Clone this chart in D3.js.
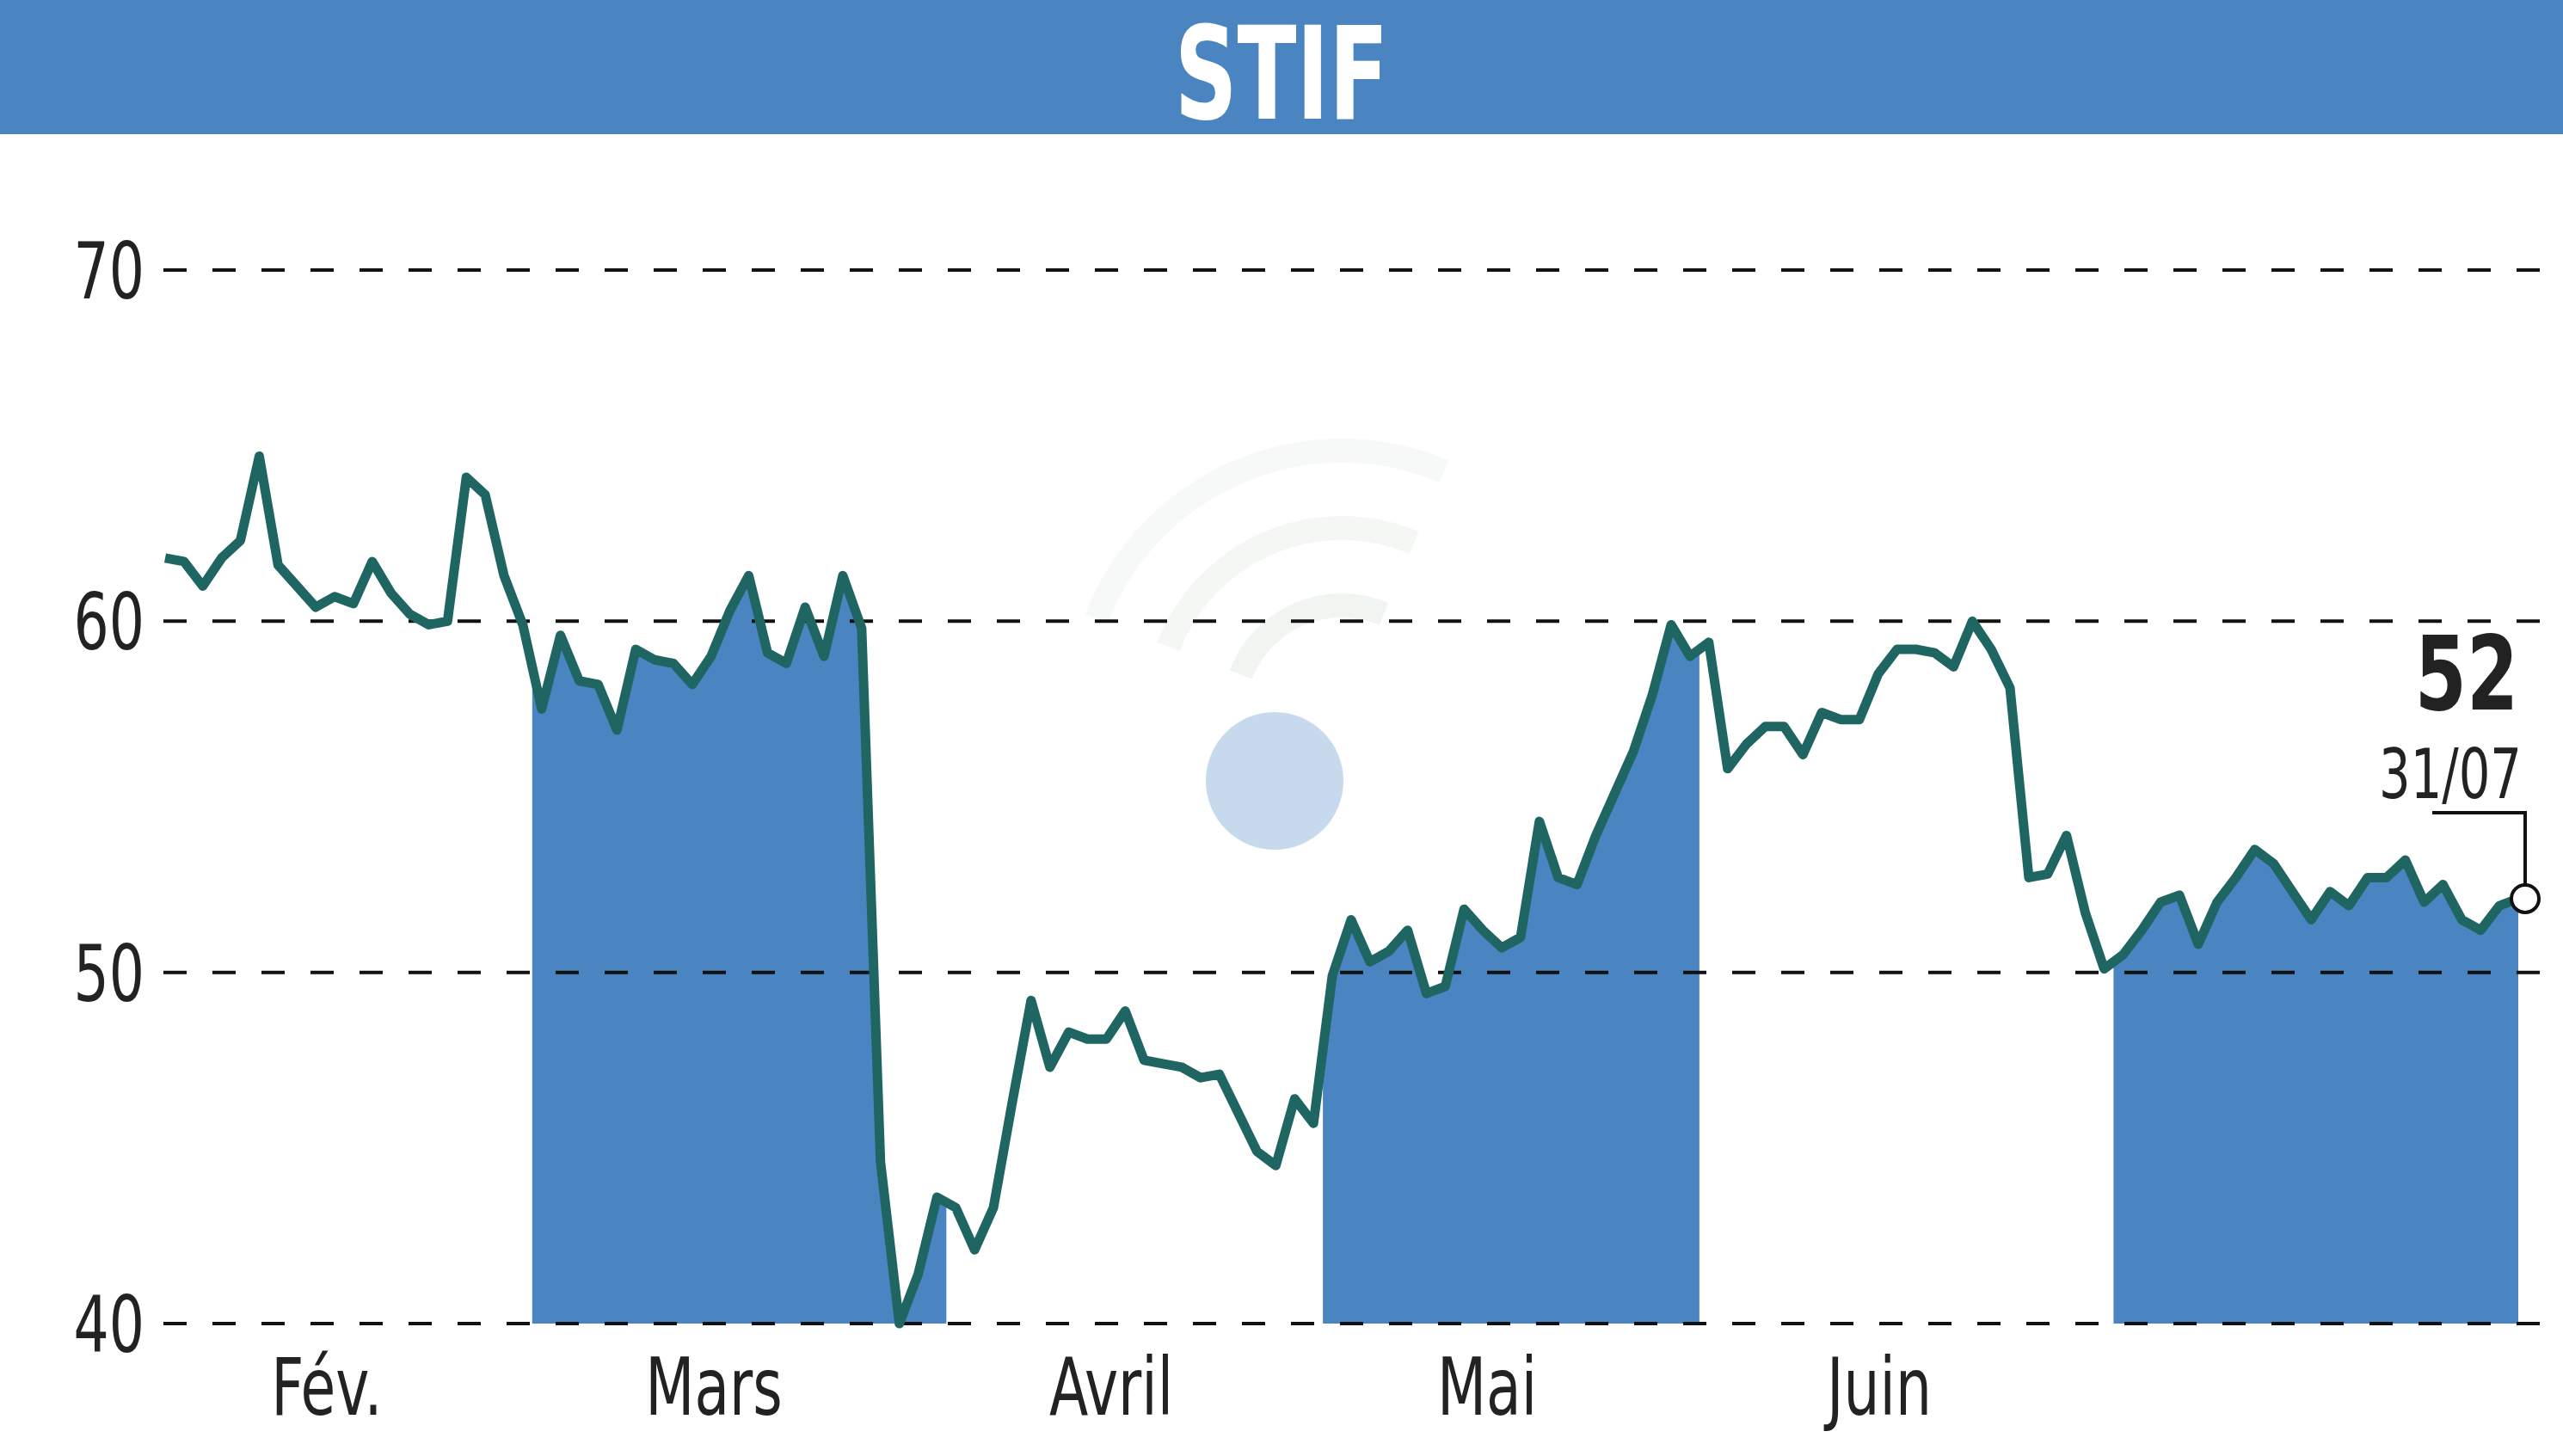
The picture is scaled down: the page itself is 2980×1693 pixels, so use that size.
<!DOCTYPE html>
<html><head><meta charset="utf-8">
<script src="https://cdn.jsdelivr.net/npm/d3@7"></script>
<style>html,body{margin:0;padding:0;background:#fff;}svg{display:block;}</style>
</head><body>
<script>
const title = "STIF";
const feb = [61.8,61.7,61.0,61.8,62.3,64.7,61.6,61.0,60.4,60.7,60.5,61.7,60.8,60.2,59.9,60.0,64.1,63.6,61.3,59.9];
const mar = [57.5,59.6,58.3,58.2,56.9,59.2,58.9,58.8,58.2,59.0,60.3,61.3,59.1,58.8,60.4,59.0,61.3,59.8,44.6,40.0,41.4,43.6];
const apr = [43.3,42.1,43.3,46.3,49.2,47.3,48.3,48.1,48.1,48.9,47.5,47.4,47.3,47.0,47.1,46.0,44.9,44.5,46.4,45.7];
const mai = [49.9,51.5,50.3,50.6,51.2,49.4,49.6,51.8,51.2,50.7,51.0,54.3,52.7,52.5,53.9,55.1,56.3,57.9,59.9,59.0];
const jun = [59.4,55.8,56.5,57.0,57.0,56.2,57.4,57.2,57.2,58.5,59.2,59.2,59.1,58.7,60.0,59.2,58.1,52.7,52.8,53.9,51.7,50.1];
const jul = [50.5,51.2,52.0,52.2,50.8,52.0,52.7,53.5,53.1,52.3,51.5,52.3,51.9,52.7,52.7,53.2,52.0,52.5,51.5,51.2,51.9,52.1];
const monthLabels = ["Fév.","Mars","Avril","Mai","Juin",""];
const yTicks = [40,50,60,70];
const lastValue = "52", lastDate = "31/07";

const months = [feb,mar,apr,mai,jun,jul];
const data = []; const starts = [];
months.forEach((m,mi)=>{ starts.push(data.length); m.forEach(v=>data.push({i:data.length,v,m:mi})); });
const W=2980,H=1693;
const svg=d3.select("body").append("svg").attr("width",W).attr("height",H);
const x=d3.scaleLinear().domain([0,data.length-1]).range([192,2928]);
const y=d3.scaleLinear().domain([40,70]).range([1539,314]);
const font="'DejaVu Sans Condensed','Liberation Sans',sans-serif";

svg.append("rect").attr("x",0).attr("y",0).attr("width",W).attr("height",156).attr("fill","#4a85c2");
svg.append("text").attr("x",1490).attr("y",138).attr("text-anchor","middle").attr("fill","#fff")
  .attr("font-family",font).attr("font-weight","bold").attr("font-size",150)
  .attr("transform",`translate(1490,0) scale(0.75,1) translate(-1490,0)`).text(title);

svg.append("circle").attr("cx",1482).attr("cy",908).attr("r",80).attr("fill","#b9cfe8").attr("opacity",0.8);
[[140,0.12],[230,0.1],[320,0.08]].forEach(([r,o])=>{
  svg.append("path").attr("d",d3.arc()({innerRadius:r-28,outerRadius:r,startAngle:-1.2,endAngle:0.4})).attr("transform","translate(1560,830)")
    .attr("fill","#8fae98").attr("opacity",o);
});

const bnd = i => i<=0 ? x(0) : (i>=data.length? x(data.length-1)+6 : (x(i-1)+x(i))/2);
const defs=svg.append("defs");
const area=d3.area().x(d=>x(d.i)).y0(y(40)).y1(d=>y(d.v));
[1,3,5].forEach(mi=>{
  const s=starts[mi], e=mi+1<starts.length?starts[mi+1]:data.length;
  const id="clip"+mi;
  defs.append("clipPath").attr("id",id).append("rect").attr("x",bnd(s)).attr("y",0).attr("width",bnd(e)-bnd(s)).attr("height",H);
  svg.append("path").datum(data).attr("d",area).attr("fill","#4a85c2").attr("clip-path",`url(#${id})`);
});

yTicks.forEach(t=>{
  svg.append("line").attr("x1",190).attr("x2",W).attr("y1",y(t)).attr("y2",y(t))
    .attr("stroke","#111").attr("stroke-width",4).attr("stroke-dasharray","27,30");
  svg.append("text").attr("x",168).attr("y",y(t)+33).attr("text-anchor","end").attr("font-family",font)
    .attr("font-size",90).attr("fill","#222").attr("transform",`translate(168,0) scale(0.8,1) translate(-168,0)`).text(t);
});

svg.append("path").datum(data).attr("d",d3.line().x(d=>x(d.i)).y(d=>y(d.v)))
  .attr("fill","none").attr("stroke","#1f6663").attr("stroke-width",11).attr("stroke-linejoin","round");

const labelX=[380,830,1292,1729,2185];
monthLabels.forEach((l,i)=>{ if(!l) return;
  svg.append("text").attr("x",labelX[i]).attr("y",1645).attr("text-anchor","middle").attr("font-family",font)
   .attr("font-size",92).attr("fill","#222").attr("transform",`translate(${labelX[i]},0) scale(0.8,1) translate(${-labelX[i]},0)`).text(l);
});

const lx=x(data.length-1)+8, ly=y(data[data.length-1].v);
svg.append("path").attr("d",`M${lx},${ly-17} V945 H2828`).attr("fill","none").attr("stroke","#111").attr("stroke-width",4);
svg.append("circle").attr("cx",lx).attr("cy",ly).attr("r",16).attr("fill","#fff").attr("stroke","#111").attr("stroke-width",4);
svg.append("text").attr("x",2928).attr("y",825).attr("text-anchor","end").attr("font-family",font).attr("font-weight","bold")
  .attr("font-size",120).attr("fill","#222").attr("transform","translate(2928,0) scale(0.8,1) translate(-2928,0)").text(lastValue);
svg.append("text").attr("x",2932).attr("y",928).attr("text-anchor","end").attr("font-family",font)
  .attr("font-size",80).attr("fill","#222").attr("transform","translate(2932,0) scale(0.8,1) translate(-2932,0)").text(lastDate);
</script>
</body></html>
